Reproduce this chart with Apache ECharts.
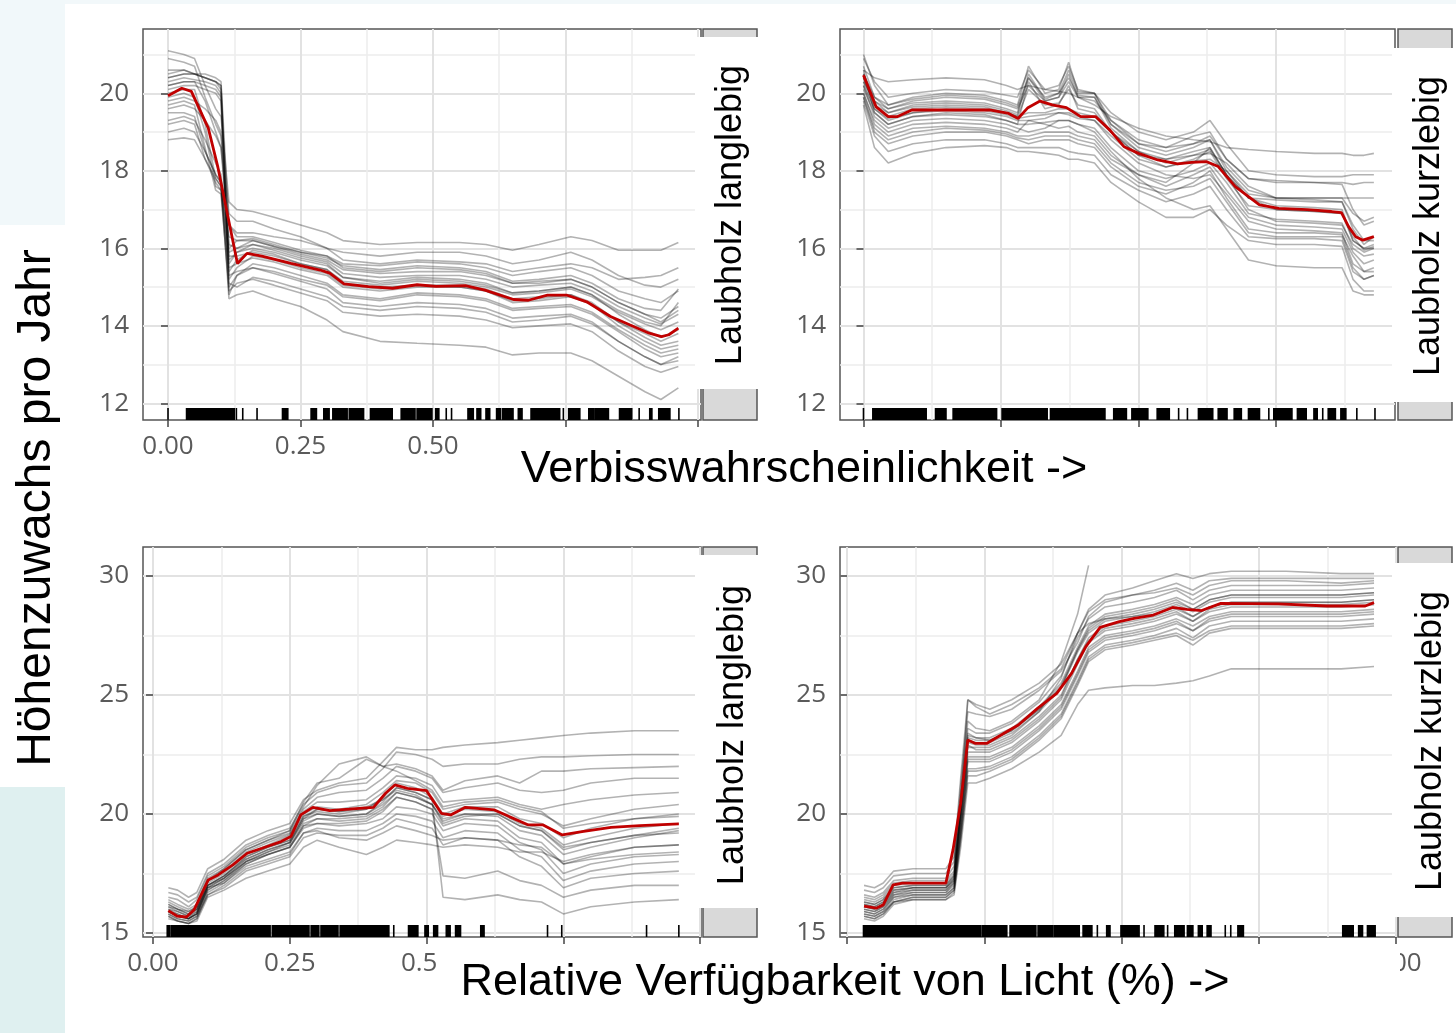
<!DOCTYPE html>
<html><head><meta charset="utf-8">
<script src="https://cdn.jsdelivr.net/npm/echarts@6/dist/echarts.min.js"></script>
<style>html,body{margin:0;padding:0;background:#fff}#c{width:1456px;height:1033px}</style>
</head><body><div id="c"></div><script>
// ---------- text ----------
const yTitle = 'Höhenzuwachs pro Jahr';
const xTitleTop = 'Verbisswahrscheinlichkeit ->';
const xTitleBottom = 'Relative Verfügbarkeit von Licht (%) ->';
const stripLabels = ['Laubholz langlebig', 'Laubholz kurzlebig', 'Laubholz langlebig', 'Laubholz kurzlebig'];

// ---------- ticks ----------
const xTicksA = [0, 0.25, 0.5, 0.75, 1];
const xTicksB = [0, 0.25, 0.5, 0.75];
const xMinor = [0.125, 0.375, 0.625, 0.875];
const yTicksTop = [12, 14, 16, 18, 20];
const yMinorTop = [13, 15, 17, 19, 21];
const yTicksBottom = [15, 20, 25, 30];
const yMinorBottom = [17.5, 22.5, 27.5];

// ---------- panel 1: Verbiss, langlebig ----------
const p1X = [0, .03, .05, .07, .09, .10, .115, .13, .16, .2, .25, .3, .33, .4, .47, .55, .6, .65, .7, .76, .8, .85, .9, .93, .963];
const p1Lines = [
 [21.1,21.0,20.9,20.2,19.6,19.4,17.2,17.0,16.95,16.8,16.6,16.4,16.2,16.1,16.15,16.15,16.1,15.95,16.1,16.3,16.2,15.95,15.95,15.95,16.15],
 [20.9,20.8,20.7,19.9,19.2,18.9,16.9,16.7,16.7,16.5,16.3,16.0,15.7,15.6,15.7,15.65,15.6,15.4,15.5,15.6,15.5,15.2,15.25,15.3,15.5],
 [20.5,20.6,20.5,20.4,20.3,20.2,16.0,16.2,16.25,16.1,15.9,15.8,15.5,15.4,15.5,15.45,15.35,15.1,15.15,15.2,15.0,14.6,14.3,14.1,14.4],
 [20.4,20.5,20.5,20.4,20.3,20.1,15.6,15.9,16.1,15.95,15.75,15.6,15.25,15.15,15.25,15.2,15.1,14.85,14.9,15.0,14.8,14.3,13.9,13.7,13.9],
 [20.3,20.4,20.35,20.3,20.2,20.0,15.2,15.5,15.8,15.7,15.5,15.35,15.05,14.95,15.05,15.0,14.9,14.65,14.7,14.8,14.6,14.1,13.7,13.5,13.6],
 [20.2,20.3,20.3,20.2,20.1,19.9,14.8,15.3,15.6,15.5,15.3,15.1,14.8,14.7,14.85,14.8,14.7,14.45,14.5,14.55,14.35,13.9,13.5,13.3,13.4],
 [20.0,20.1,20.1,19.2,17.8,17.6,16.3,16.2,16.2,16.05,15.85,15.7,15.45,15.35,15.4,15.4,15.3,15.1,15.1,15.2,15.0,14.6,14.3,14.2,14.5],
 [19.9,20.0,19.9,19.0,17.6,17.5,15.5,15.6,15.75,15.65,15.45,15.3,15.0,14.9,15.0,15.0,14.9,14.6,14.65,14.75,14.55,14.1,13.8,13.6,13.8],
 [19.7,19.8,19.7,18.6,17.5,17.4,15.0,15.3,15.5,15.4,15.2,15.05,14.75,14.65,14.8,14.75,14.65,14.4,14.45,14.5,14.3,13.85,13.4,13.2,13.3],
 [19.6,19.7,19.6,19.3,18.9,18.6,16.6,16.4,16.4,16.3,16.2,16.0,15.9,15.8,15.9,15.9,15.8,15.6,15.7,15.9,15.7,15.3,15.05,15.0,15.2],
 [19.5,19.5,19.4,18.5,17.9,17.7,15.3,15.4,15.5,15.35,15.15,14.95,14.6,14.5,14.6,14.55,14.45,14.2,14.25,14.3,14.1,13.6,13.2,13.0,13.1],
 [19.3,19.4,19.3,18.8,18.2,17.9,15.8,15.8,15.9,15.8,15.6,15.45,15.15,15.05,15.15,15.1,15.0,14.8,14.85,14.95,14.75,14.35,14.05,13.9,14.1],
 [19.2,19.3,19.2,18.3,17.7,17.5,14.9,15.1,15.2,15.05,14.85,14.65,14.35,14.25,14.3,14.25,14.15,13.95,14.0,14.05,13.85,13.35,12.95,12.8,12.95],
 [19.0,19.1,19.0,18.5,17.9,17.7,14.7,14.8,14.9,14.7,14.5,14.15,13.85,13.6,13.55,13.5,13.45,13.25,13.3,13.3,13.1,12.7,12.3,12.1,12.4],
 [18.8,18.85,18.8,18.3,17.8,17.6,15.9,16.0,16.1,16.0,15.8,15.65,15.35,15.25,15.3,15.3,15.2,15.0,15.05,15.1,14.9,14.5,14.2,14.05,14.3],
 [20.6,20.6,20.5,20.5,20.4,20.3,16.6,16.3,16.3,16.15,15.95,15.8,15.6,15.55,15.65,15.6,15.5,15.3,15.4,15.5,15.3,14.9,14.7,14.6,14.9],
 [20.1,20.2,20.2,20.1,20.0,19.8,15.1,15.0,15.25,15.15,14.95,14.75,14.5,14.4,14.5,14.45,14.35,14.1,14.15,14.25,14.05,13.6,13.2,13.0,13.2],
 [20.4,20.5,20.5,20.4,20.3,20.2,15.4,15.7,15.95,15.85,15.6,15.45,15.1,15.0,15.05,15.05,14.95,14.7,14.75,14.8,14.55,14.0,13.6,13.4,13.5],
 [19.8,19.9,19.8,19.6,19.3,19.0,15.7,15.9,16.0,15.9,15.7,15.55,15.25,15.1,15.2,15.15,15.05,14.85,14.9,15.0,14.8,14.4,14.1,14.0,14.6],
 [20.2,20.3,20.3,19.8,19.0,18.6,16.1,16.0,16.2,16.05,15.9,15.75,15.55,15.45,15.55,15.5,15.4,15.15,15.2,15.3,15.1,14.7,14.45,14.4,14.95]
];
const p1MeanX = [0,0.026,0.044,0.076,0.094,0.113,0.131,0.149,0.177,0.232,0.287,0.305,0.332,0.378,0.424,0.47,0.506,0.561,0.598,0.652,0.68,0.716,0.753,0.79,0.835,0.872,0.908,0.931,0.945,0.963];
const p1MeanY = [19.94,20.13,20.05,19.1,18.1,16.82,15.61,15.87,15.8,15.61,15.44,15.36,15.08,15.01,14.97,15.06,15.02,15.04,14.92,14.68,14.66,14.79,14.79,14.62,14.24,14.02,13.81,13.72,13.77,13.94];
const p1Rug = [[0,0],[0.035,0.125],[0.129,0.129],[0.141,0.141],[0.168,0.168],[0.216,0.226],[0.270,0.280],[0.294,0.304],[0.311,0.338],[0.342,0.369],[0.382,0.423],[0.440,0.466],[0.470,0.498],[0.505,0.511],[0.525,0.525],[0.535,0.535],[0.566,0.576],[0.583,0.590],[0.600,0.607],[0.620,0.627],[0.631,0.651],[0.661,0.668],[0.685,0.739],[0.746,0.746],[0.756,0.777],[0.794,0.804],[0.807,0.831],[0.852,0.875],[0.889,0.889],[0.909,0.913],[0.926,0.947],[0.964,0.964]];

// ---------- panel 2: Verbiss, kurzlebig ----------
const p2X = [0, .02, .045, .09, .15, .22, .26, .28, .3, .33, .355, .373, .39, .42, .45, .5, .55, .6, .63, .66, .7, .75, .82, .87, .89, .91, .928];
const p2Lines = [
 [20.6,20.4,20.3,20.35,20.4,20.35,20.2,20.1,20.2,20.1,20.05,20.0,19.9,19.7,19.4,19.1,18.9,18.8,18.75,18.6,18.55,18.5,18.45,18.45,18.4,18.4,18.45],
 [20.9,20.3,19.9,20.0,20.1,20.05,19.95,19.9,20.6,20.1,20.2,20.7,20.1,20.0,19.5,19.0,18.8,19.0,19.3,18.7,18.0,17.9,17.85,17.85,17.9,17.9,17.9],
 [21.0,20.2,19.7,19.9,20.0,19.95,19.8,19.7,20.7,20.0,20.1,20.8,20.05,20.0,19.3,18.7,18.6,18.9,19.0,18.3,17.8,17.7,17.7,17.7,17.65,17.7,17.7],
 [20.7,19.9,19.6,19.75,19.8,19.75,19.6,19.5,20.5,19.85,20.0,20.6,20.0,20.0,19.2,18.6,18.4,18.6,18.8,18.0,17.4,17.3,17.3,17.3,17.3,17.3,17.3],
 [20.5,19.8,19.5,19.7,19.75,19.7,19.55,19.45,20.4,19.8,19.9,20.5,19.9,19.9,19.1,18.5,18.3,18.5,18.6,17.9,17.3,17.25,17.2,17.2,16.5,16.1,16.3],
 [20.4,19.7,19.4,19.6,19.65,19.6,19.5,19.4,19.5,19.5,19.6,19.6,19.5,19.4,19.0,18.4,18.3,18.4,18.45,18.2,17.6,17.3,17.25,17.2,16.6,16.2,16.2],
 [20.3,19.6,19.3,19.5,19.55,19.5,19.4,19.3,19.3,19.35,19.5,19.45,19.35,19.3,18.9,18.3,18.1,18.25,18.3,18.0,17.3,17.0,16.95,16.9,16.2,16.0,16.0],
 [20.6,19.5,19.2,19.4,19.45,19.4,19.3,19.2,20.3,19.6,19.7,20.2,19.6,19.5,19.0,18.4,18.1,18.3,18.5,17.8,17.1,17.0,16.95,16.9,16.3,15.95,16.05],
 [20.2,19.4,19.1,19.3,19.35,19.3,19.2,19.1,19.0,19.1,19.3,19.3,19.2,19.1,18.6,18.0,17.8,18.0,18.2,17.7,16.9,16.75,16.7,16.65,16.0,15.8,15.85],
 [20.0,19.3,19.0,19.2,19.25,19.2,19.1,19.0,19.3,19.2,19.1,19.15,19.0,18.9,18.4,17.9,17.6,17.9,18.1,17.5,16.8,16.6,16.55,16.5,15.9,15.6,15.7],
 [20.0,19.2,18.9,19.1,19.15,19.1,19.0,18.9,18.9,19.0,19.0,19.0,18.9,18.8,18.3,17.9,17.7,18.2,18.6,17.9,17.0,16.7,16.65,16.6,16.1,15.9,16.0],
 [19.9,19.0,18.7,18.9,19.0,19.0,18.9,18.8,18.7,18.8,18.8,18.8,18.7,18.6,18.1,17.6,17.4,17.7,18.0,17.3,16.5,16.4,16.4,16.35,15.8,15.4,15.5],
 [19.8,18.9,18.5,18.7,18.8,18.8,18.7,18.6,18.6,18.6,18.6,18.5,18.45,18.4,17.9,17.5,17.2,17.4,17.6,17.0,16.3,16.25,16.25,16.2,15.4,15.2,15.3],
 [19.7,18.6,18.2,18.45,18.6,18.65,18.6,18.5,18.5,18.45,18.4,18.3,18.3,18.2,17.7,17.2,16.8,16.8,17.0,16.6,16.2,16.1,16.1,16.05,15.2,14.9,14.9],
 [20.1,19.5,19.2,19.4,19.5,19.45,19.3,19.2,19.2,19.25,19.3,19.3,19.2,19.0,18.5,17.8,17.3,17.0,17.1,16.5,15.7,15.55,15.5,15.5,14.9,14.8,14.8],
 [20.3,19.8,19.6,19.8,19.9,19.85,19.7,19.6,20.2,19.8,19.9,20.3,19.9,19.8,19.3,18.8,18.6,18.7,18.9,18.3,17.8,17.75,17.7,17.65,17.0,16.6,16.7],
 [20.5,19.9,19.7,19.85,19.95,19.9,19.75,19.65,20.4,19.9,20.0,20.4,19.95,19.9,19.2,18.7,18.5,18.7,18.8,18.1,17.5,17.3,17.3,17.3,16.9,16.7,16.8],
 [20.2,19.6,19.35,19.5,19.6,19.55,19.45,19.35,19.4,19.45,19.5,19.5,19.4,19.3,18.8,18.2,17.9,17.8,17.9,17.4,16.7,16.5,16.45,16.4,15.6,15.4,15.4],
 [20.4,19.7,19.5,19.65,19.7,19.65,19.5,19.4,20.1,19.7,19.75,20.1,19.7,19.6,19.0,18.5,18.2,18.4,18.55,17.9,17.3,17.1,17.05,17.0,16.2,16.0,16.1],
 [19.9,19.1,18.8,19.0,19.1,19.05,18.95,18.85,18.8,18.9,18.9,18.9,18.8,18.7,18.2,17.7,17.5,17.6,17.8,17.2,16.4,16.3,16.3,16.3,15.5,15.2,15.3]
];
const p2MeanX = [0,0.023,0.045,0.062,0.088,0.141,0.194,0.229,0.264,0.281,0.299,0.321,0.343,0.369,0.395,0.422,0.448,0.474,0.5,0.535,0.571,0.597,0.623,0.645,0.676,0.72,0.755,0.807,0.851,0.869,0.882,0.895,0.908,0.928];
const p2MeanY = [20.47,19.65,19.4,19.4,19.57,19.57,19.57,19.57,19.48,19.35,19.63,19.8,19.7,19.63,19.4,19.4,19.05,18.62,18.45,18.28,18.18,18.22,18.24,18.11,17.59,17.12,17.03,17.0,16.95,16.92,16.56,16.3,16.21,16.3];
const p2Rug = [[0,0],[0.017,0.114],[0.131,0.150],[0.163,0.242],[0.252,0.334],[0.340,0.439],[0.455,0.478],[0.488,0.517],[0.534,0.556],[0.573,0.573],[0.589,0.589],[0.609,0.635],[0.645,0.661],[0.674,0.687],[0.700,0.720],[0.737,0.737],[0.746,0.779],[0.789,0.805],[0.819,0.825],[0.835,0.835],[0.845,0.858],[0.868,0.877],[0.897,0.897],[0.930,0.930]];

// ---------- panel 3: Licht, langlebig ----------
const p3X = [.028, .045, .065, .08, .1, .13, .17, .21, .25, .275, .3, .34, .39, .42, .445, .48, .51, .53, .57, .63, .67, .71, .75, .8, .88, .961];
const p3Lines = [
 [16.9,16.8,16.5,16.7,17.7,18.1,18.9,19.3,19.6,20.6,21.0,21.3,21.5,22.2,22.8,22.7,22.7,22.8,22.9,23.0,23.1,23.2,23.3,23.4,23.5,23.5],
 [16.7,16.6,16.3,16.5,17.5,17.9,18.7,19.1,19.4,20.4,20.9,21.2,21.3,21.9,22.6,22.5,22.3,22.0,22.1,22.1,22.3,22.4,22.4,22.45,22.5,22.5],
 [16.5,16.4,16.1,16.4,17.4,17.8,18.6,19.0,19.3,20.5,21.3,21.5,22.3,22.0,22.1,21.9,21.6,21.0,21.4,21.6,21.3,21.8,21.8,21.9,21.95,22.0],
 [16.4,16.2,16.0,16.2,17.3,17.7,18.5,18.9,19.2,20.2,20.7,20.9,21.0,21.5,22.0,21.8,21.5,20.9,21.1,21.3,21.0,20.9,21.0,21.3,21.5,21.5],
 [16.3,16.1,15.9,16.1,17.2,17.6,18.4,18.8,19.15,20.1,20.5,20.5,20.6,21.1,21.6,21.5,21.2,20.5,20.6,20.7,20.4,20.2,20.4,20.6,20.8,20.9],
 [16.2,16.0,15.8,16.0,17.1,17.5,18.3,18.7,19.1,20.0,20.3,20.2,20.4,20.9,21.4,21.3,20.9,20.2,20.4,20.5,20.2,20.0,19.5,19.8,20.2,20.4],
 [16.0,15.8,15.6,15.9,17.0,17.4,18.2,18.6,18.9,19.9,20.1,20.0,20.2,20.7,21.3,21.1,20.7,20.0,20.3,20.3,19.8,19.6,19.0,19.4,19.8,20.0],
 [15.9,15.7,15.6,15.8,16.9,17.3,18.1,18.5,18.8,19.8,20.0,19.9,20.0,20.5,21.1,20.9,20.6,19.9,20.2,20.1,19.6,19.4,18.7,19.0,19.4,19.6],
 [15.8,15.6,15.5,15.7,16.8,17.2,18.0,18.4,18.7,19.6,19.8,19.8,19.9,20.3,20.9,20.7,20.4,19.7,20.0,19.9,19.3,19.1,18.3,18.6,19.0,19.3],
 [15.7,15.5,15.4,15.6,16.7,17.1,17.9,18.3,18.6,19.5,19.6,19.6,19.7,20.1,20.7,20.5,20.2,19.5,19.8,19.7,19.0,18.8,17.9,18.2,18.6,18.7],
 [16.0,15.9,15.7,16.0,17.0,17.3,18.0,18.3,18.6,19.4,19.6,19.5,19.6,19.8,20.3,20.2,20.0,19.3,19.6,19.5,18.8,18.5,17.5,17.9,18.2,18.3],
 [15.9,15.7,15.6,15.8,16.9,17.1,17.8,18.1,18.4,19.2,19.4,19.3,19.3,19.6,20.0,19.9,19.7,19.0,19.3,19.2,18.5,18.2,17.2,17.6,17.9,18.0],
 [15.8,15.6,15.5,15.7,16.6,16.9,17.6,17.9,18.2,19.0,19.2,19.1,19.1,19.4,19.8,19.6,19.4,18.7,19.0,18.9,18.2,17.8,16.9,17.3,17.5,17.6],
 [16.1,16.0,15.8,16.0,17.0,17.4,18.1,18.5,18.8,19.8,20.2,20.1,20.3,20.6,21.1,20.9,20.6,16.5,16.4,16.6,16.4,16.3,15.8,16.1,16.3,16.4],
 [15.9,15.7,15.6,15.8,16.8,17.2,17.9,18.3,18.6,19.5,19.8,19.7,19.8,20.2,20.7,20.5,20.2,17.4,17.3,17.6,17.2,17.0,16.5,16.8,17.0,17.0],
 [15.6,15.5,15.4,15.5,16.5,16.8,17.3,17.6,17.9,18.6,18.9,18.6,18.3,18.6,18.9,18.8,18.7,18.6,18.7,18.6,18.4,18.4,18.0,18.3,18.6,18.7],
 [15.7,15.5,15.4,15.6,16.6,17.0,17.7,18.0,18.3,19.2,19.3,19.0,18.9,19.2,19.5,19.3,19.1,18.9,19.0,18.9,18.7,18.6,17.9,18.1,18.3,18.4],
 [16.2,16.0,15.9,16.1,17.2,17.7,18.5,18.9,19.3,20.3,21.2,22.1,22.4,22.0,21.8,21.4,21.0,20.3,20.5,20.6,20.3,20.1,19.4,19.6,19.8,19.9],
 [16.1,15.9,15.7,15.9,17.0,17.4,18.2,18.6,18.9,19.9,20.2,20.1,20.2,20.6,21.0,20.8,20.4,19.6,19.9,20.0,19.5,19.3,18.6,18.8,19.1,19.2],
 [15.9,15.8,15.6,15.8,16.9,17.3,18.0,18.4,18.8,19.7,20.0,19.9,20.0,20.4,20.9,20.7,20.4,19.8,20.0,20.0,19.5,19.3,18.5,18.8,19.1,19.4]
];
const p3MeanX = [0.028,0.044,0.061,0.075,0.101,0.119,0.146,0.172,0.199,0.234,0.252,0.27,0.292,0.323,0.358,0.403,0.425,0.442,0.465,0.5,0.527,0.544,0.571,0.624,0.651,0.686,0.713,0.748,0.784,0.837,0.89,0.961];
const p3MeanY = [15.94,15.71,15.67,15.97,17.23,17.44,17.86,18.35,18.56,18.84,19.05,19.96,20.28,20.14,20.2,20.28,20.87,21.22,21.08,20.98,20.03,19.96,20.28,20.17,19.89,19.54,19.54,19.12,19.26,19.44,19.51,19.58];
const p3Rug = [[0.026,0.030],[0.033,0.214],[0.218,0.285],[0.289,0.303],[0.307,0.338],[0.342,0.431],[0.44,0.44],[0.467,0.484],[0.497,0.503],[0.513,0.52],[0.536,0.543],[0.553,0.562],[0.599,0.605],[0.721,0.721],[0.747,0.747],[0.902,0.902],[0.961,0.961]];

// ---------- panel 4: Licht, kurzlebig ----------
const p4X = [.031, .05, .066, .085, .12, .18, .195, .207, .22, .235, .26, .3, .35, .39, .42, .44, .47, .52, .56, .6, .63, .66, .7, .8, .9, .96];
const p4Lines = [
 [17.0,16.9,17.1,17.6,17.7,17.7,18.2,21.5,24.8,24.6,24.4,24.8,25.5,26.3,27.6,28.6,29.2,29.5,29.8,30.1,29.9,30.1,30.2,30.2,30.1,30.1],
 [16.8,16.7,16.9,17.4,17.5,17.5,18.0,21.2,24.3,24.2,24.1,24.4,25.2,26.0,27.2,28.3,28.9,29.2,29.4,29.7,29.4,29.8,29.9,29.9,29.9,29.9],
 [16.6,16.5,16.7,17.2,17.3,17.3,17.8,20.8,23.9,23.6,23.5,23.9,24.8,26.4,28.4,30.45],
 [16.5,16.4,16.6,17.1,17.2,17.2,17.6,20.6,23.6,23.4,23.4,23.8,24.7,25.8,27.4,28.2,28.7,28.9,29.1,29.4,29.0,29.4,29.6,29.6,29.6,29.7],
 [16.3,16.2,16.4,16.9,17.0,17.0,17.4,20.3,23.3,23.2,23.2,23.6,24.5,25.5,27.0,27.9,28.4,28.6,28.8,29.1,28.8,29.2,29.4,29.4,29.4,29.5],
 [16.2,16.1,16.3,16.8,16.9,16.9,17.3,20.1,23.1,23.0,23.0,23.4,24.3,25.3,26.8,27.6,28.1,28.3,28.5,28.8,28.5,28.9,29.1,29.1,29.1,29.2],
 [16.1,16.0,16.2,16.7,16.9,16.9,17.2,19.9,22.8,22.8,22.8,23.2,24.1,25.0,26.5,27.4,27.9,28.1,28.3,28.6,28.3,28.7,28.9,28.9,28.9,29.0],
 [16.0,15.9,16.1,16.6,16.8,16.8,17.1,19.7,22.6,22.6,22.6,23.0,23.9,24.8,26.3,27.2,27.7,27.9,28.1,28.4,28.1,28.5,28.7,28.7,28.7,28.8],
 [15.9,15.8,16.0,16.5,16.7,16.7,17.0,19.5,22.4,22.4,22.4,22.8,23.7,24.6,26.0,27.0,27.5,27.7,27.9,28.2,27.9,28.3,28.5,28.5,28.5,28.6],
 [15.8,15.7,15.9,16.4,16.6,16.6,16.9,19.3,22.2,22.2,22.2,22.6,23.5,24.4,25.8,26.8,27.3,27.5,27.7,28.0,27.7,28.1,28.3,28.3,28.3,28.4],
 [15.7,15.6,15.8,16.3,16.5,16.5,16.8,19.1,21.9,21.9,22.0,22.4,23.3,24.2,25.6,26.6,27.1,27.3,27.5,27.8,27.4,27.9,28.1,28.1,28.1,28.2],
 [15.6,15.5,15.7,16.2,16.4,16.4,16.7,18.9,21.6,21.6,21.8,22.2,23.1,24.0,25.4,26.4,26.9,27.1,27.3,27.5,27.1,27.6,27.8,27.8,27.8,27.9],
 [15.8,15.7,15.9,16.3,16.4,16.4,16.6,18.6,21.3,21.3,21.5,21.9,22.6,23.3,24.6,25.2,25.3,25.4,25.4,25.5,25.6,25.8,26.1,26.1,26.1,26.2],
 [16.4,16.3,16.5,17.0,17.1,17.1,17.5,20.4,24.8,24.5,24.2,24.6,25.3,26.1,27.6,28.5,29.0,29.2,29.3,29.5,29.2,29.6,29.8,29.8,29.7,29.8],
 [16.2,16.1,16.3,16.8,16.9,16.9,17.3,20.2,23.4,23.2,23.1,23.5,24.4,25.3,26.9,27.8,28.3,28.5,28.7,29.0,28.6,29.0,29.2,29.2,29.2,29.3],
 [16.0,15.9,16.1,16.6,16.7,16.7,17.1,19.8,22.9,22.7,22.7,23.1,24.0,24.9,26.5,27.3,27.8,28.0,28.2,28.5,28.1,28.6,28.8,28.8,28.8,28.9],
 [16.1,16.0,16.2,16.7,16.8,16.8,17.2,20.0,23.0,22.9,22.9,23.3,24.3,25.7,27.6,28.0,28.2,28.3,28.4,28.7,28.3,28.7,28.9,28.9,28.9,29.0],
 [15.9,15.8,16.0,16.5,16.6,16.6,16.9,19.4,22.3,22.3,22.3,22.7,23.6,24.5,25.9,26.9,27.4,27.6,27.8,28.1,27.7,28.2,28.4,28.4,28.4,28.5],
 [15.7,15.6,15.8,16.3,16.5,16.5,16.8,19.0,21.8,21.8,21.9,22.3,23.2,24.1,25.5,26.5,27.0,27.2,27.4,27.6,27.3,27.7,27.9,27.9,27.9,28.0],
 [16.3,16.2,16.4,16.9,17.0,17.0,17.4,20.2,23.2,23.1,23.1,23.5,24.4,25.4,26.9,27.7,28.2,28.4,28.6,28.9,28.6,29.0,29.2,29.2,29.2,29.3]
];
const p4MeanX = [0.031,0.053,0.066,0.084,0.101,0.18,0.193,0.207,0.22,0.233,0.255,0.286,0.312,0.347,0.382,0.409,0.435,0.461,0.496,0.523,0.558,0.593,0.619,0.646,0.681,0.786,0.874,0.944,0.96];
const p4MeanY = [16.13,16.04,16.18,17.02,17.09,17.09,18.49,20.45,23.11,22.97,22.97,23.39,23.74,24.44,25.07,25.91,27.03,27.84,28.08,28.22,28.36,28.68,28.6,28.55,28.85,28.83,28.74,28.74,28.88];
const p4Rug = [[0.030,0.243],[0.246,0.291],[0.297,0.344],[0.348,0.374],[0.377,0.423],[0.430,0.446],[0.456,0.456],[0.473,0.479],[0.499,0.532],[0.541,0.541],[0.561,0.577],[0.584,0.584],[0.597,0.614],[0.620,0.630],[0.640,0.647],[0.656,0.663],[0.689,0.689],[0.699,0.699],[0.712,0.722],[0.903,0.922],[0.932,0.939],[0.948,0.962]];

// ---------- layout ----------
const panels = [
  {grid:{left:143, top:29, width:558, height:391}, xr:[-0.0472,1.0057], yr:[11.57,21.66], xt:xTicksA, yt:yTicksTop, ym:yMinorTop,
   gx:p1X, lines:p1Lines, mx:p1MeanX, my:p1MeanY, rug:p1Rug,
   strip:[703,29,54,391], box:[695,37,63,352], lab:[731,215]},
  {grid:{left:840, top:29, width:555, height:391}, xr:[-0.0427,0.9664], yr:[11.57,21.66], xt:xTicksB, yt:yTicksTop, ym:yMinorTop,
   gx:p2X, lines:p2Lines, mx:p2MeanX, my:p2MeanY, rug:p2Rug,
   strip:[1398,29,54,391], box:[1392,48,64,354], lab:[1429,226]},
  {grid:{left:143, top:547, width:558, height:390}, xr:[-0.0183,1.0015], yr:[14.83,31.22], xt:xTicksA, yt:yTicksBottom, ym:yMinorBottom,
   gx:p3X, lines:p3Lines, mx:p3MeanX, my:p3MeanY, rug:p3Rug,
   strip:[703,547,54,390], box:[695,555,63,353], lab:[733,735]},
  {grid:{left:840, top:547, width:556, height:390}, xr:[-0.0128,1.0], yr:[14.83,31.22], xt:xTicksA, yt:yTicksBottom, ym:yMinorBottom,
   gx:p4X, lines:p4Lines, mx:p4MeanX, my:p4MeanY, rug:p4Rug,
   strip:[1398,547,54,390], box:[1392,563,64,354], lab:[1431,741]}
];

const tickFont = {color:'#5a5a5a', fontSize:26, fontFamily:'Open Sans'};
const grids = [], xAxes = [], yAxes = [], series = [], graphics = [];

panels.forEach((p, i) => {
  grids.push(Object.assign({show:true, borderColor:'#555', borderWidth:1.5, backgroundColor:'#fff', containLabel:false, outerBoundsMode:'none'}, p.grid));
  xAxes.push({gridIndex:i, type:'value', position:'bottom', min:p.xr[0], max:p.xr[1],
    axisLine:{show:false},
    axisTick:{show:true, customValues:p.xt, length:7, lineStyle:{color:'#444', width:1.5}},
    axisLabel:Object.assign({customValues:p.xt, margin:14, formatter:v => v.toFixed(2)}, tickFont),
    splitLine:{show:true, lineStyle:{color:'#e2e2e2', width:2}}});
  xAxes.push({gridIndex:i, type:'value', position:'top', min:p.xr[0], max:p.xr[1],
    axisLine:{show:false}, axisTick:{show:false, customValues:xMinor}, axisLabel:{show:false, customValues:xMinor},
    splitLine:{show:true, lineStyle:{color:'#ededed', width:1.5}}});
  yAxes.push({gridIndex:i, type:'value', position:'left', min:p.yr[0], max:p.yr[1],
    axisLine:{show:false},
    axisTick:{show:true, customValues:p.yt, length:7, lineStyle:{color:'#444', width:1.5}},
    axisLabel:Object.assign({customValues:p.yt, margin:14, formatter:v => String(v)}, tickFont),
    splitLine:{show:true, lineStyle:{color:'#e2e2e2', width:2}}});
  yAxes.push({gridIndex:i, type:'value', position:'right', min:p.yr[0], max:p.yr[1],
    axisLine:{show:false}, axisTick:{show:false, customValues:p.ym}, axisLabel:{show:false, customValues:p.ym},
    splitLine:{show:true, lineStyle:{color:'#ededed', width:1.5}}});

  p.lines.forEach(line => {
    series.push({type:'line', xAxisIndex:2*i, yAxisIndex:2*i, symbol:'none', silent:true, z:3,
      data: line.map((v, k) => [p.gx[k], v]),
      lineStyle:{color:'rgba(0,0,0,0.3)', width:1.6}, emphasis:{disabled:true}});
  });
  series.push({type:'line', xAxisIndex:2*i, yAxisIndex:2*i, symbol:'none', silent:true, z:4,
    data: p.mx.map((x, k) => [x, p.my[k]]),
    lineStyle:{color:'#c00000', width:2.8}, emphasis:{disabled:true}});
  const yBase = p.yr[0];
  series.push({type:'custom', xAxisIndex:2*i, yAxisIndex:2*i, silent:true, z:5,
    data: p.rug.map(r => [r[0], r[1], yBase]),
    encode:{x:[0,1], y:2},
    renderItem:(params, api) => {
      const a = api.coord([api.value(0), api.value(2)]);
      const b = api.coord([api.value(1), api.value(2)]);
      return {type:'rect', shape:{x:a[0]-0.8, y:a[1]-12, width:Math.max(b[0]-a[0]+1.6, 1.6), height:12}, style:{fill:'#000'}};
    }});

  graphics.push({type:'rect', z:100, shape:{x:p.strip[0], y:p.strip[1], width:p.strip[2], height:p.strip[3]},
    style:{fill:'#d9d9d9', stroke:'#555', lineWidth:1.5}});
  graphics.push({type:'rect', z:101, shape:{x:p.box[0], y:p.box[1], width:p.box[2], height:p.box[3]}, style:{fill:'#fff'}});
  graphics.push({type:'text', z:102, x:p.lab[0], y:p.lab[1], rotation:Math.PI/2,
    style:{text:stripLabels[i], font:'36px "Liberation Sans", Arial, sans-serif', fill:'#000', align:'center', verticalAlign:'middle'}});
});

graphics.push({type:'rect', z:90, shape:{x:0, y:0, width:1456, height:4}, style:{fill:'#f2f8fa'}});
graphics.push({type:'rect', z:90, shape:{x:0, y:0, width:65, height:225}, style:{fill:'#f1f8fa'}});
graphics.push({type:'rect', z:90, shape:{x:0, y:787, width:65, height:246}, style:{fill:'#dff0f0'}});
graphics.push({type:'text', z:102, x:37, y:508, rotation:Math.PI/2,
  style:{text:yTitle, font:'48px "Liberation Sans", Arial, sans-serif', fill:'#000', align:'center', verticalAlign:'middle'}});
graphics.push({type:'rect', z:101, shape:{x:505, y:433, width:800, height:66}, style:{fill:'#fff'}});
graphics.push({type:'text', z:102, x:804, y:470,
  style:{text:xTitleTop, font:'45px "Liberation Sans", Arial, sans-serif', fill:'#000', align:'center', verticalAlign:'middle'}});
graphics.push({type:'rect', z:101, shape:{x:438, y:946, width:962, height:70}, style:{fill:'#fff'}});
graphics.push({type:'text', z:102, x:845, y:983,
  style:{text:xTitleBottom, font:'45px "Liberation Sans", Arial, sans-serif', fill:'#000', align:'center', verticalAlign:'middle'}});

const chart = echarts.init(document.getElementById('c'), null, {renderer:'canvas'});
chart.setOption({
  animation:false,
  backgroundColor:'#fff',
  grid:grids, xAxis:xAxes, yAxis:yAxes, series:series, graphic:{elements:graphics}
});
</script></body></html>
